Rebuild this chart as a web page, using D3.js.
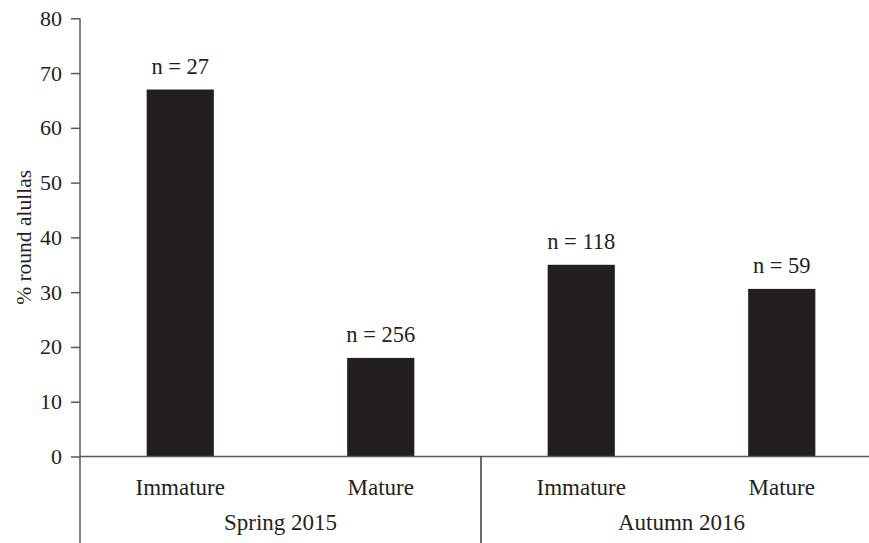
<!DOCTYPE html>
<html>
<head>
<meta charset="utf-8">
<script src="https://cdn.jsdelivr.net/npm/d3@7"></script>
<style>
  html, body { margin: 0; padding: 0; background: #fff; }
  svg text { font-family: "Liberation Serif", "Times New Roman", serif; fill: #231f20; }
</style>
</head>
<body>
<svg id="chart" width="869" height="543"></svg>
<script>
// Share of round alullas by age class and season
const groups = ["Spring 2015", "Autumn 2016"];
const categories = ["Immature", "Mature", "Immature", "Mature"];
const categoryGroup = [0, 0, 1, 1];
const values = [67, 18, 35, 30.6];
const sampleSizes = ["n = 27", "n = 256", "n = 118", "n = 59"];
const yTicks = [0, 10, 20, 30, 40, 50, 60, 70, 80];

const svg = d3.select("#chart");
const margin = { left: 80 };
const plotBottom = 456.5;
const plotRight = 882;

const x = d3.scaleBand()
  .domain(d3.range(values.length))
  .range([margin.left, plotRight])
  .paddingInner(0.665)
  .paddingOuter(0.3325);

const y = d3.scaleLinear().domain([0, 80]).range([plotBottom, 18.3]);

const axisColor = "#5a5a5a";

// bars
svg.append("g").selectAll("rect")
  .data(values)
  .join("rect")
  .attr("x", (d, i) => x(i))
  .attr("width", x.bandwidth())
  .attr("y", d => y(d))
  .attr("height", d => y(0) - y(d))
  .attr("fill", "#231f20");

// sample size labels
svg.append("g").selectAll("text")
  .data(values)
  .join("text")
  .attr("x", (d, i) => x(i) + x.bandwidth() / 2)
  .attr("y", d => y(d) - 15.5)
  .attr("text-anchor", "middle")
  .style("font-size", "22.5px")
  .text((d, i) => sampleSizes[i]);

// y axis
const yAxis = d3.axisLeft(y).tickValues(yTicks).tickSize(9).tickPadding(9).tickFormat(d3.format("d"));
const gy = svg.append("g").attr("transform", `translate(${margin.left},0)`).call(yAxis);
gy.select(".domain").remove();
gy.selectAll(".tick line").attr("stroke", axisColor).attr("stroke-width", 1.5);
gy.selectAll(".tick text").style("font-size", "22px").attr("fill", "#231f20");

// vertical axis line running down through the category label area
svg.append("line")
  .attr("x1", margin.left).attr("x2", margin.left)
  .attr("y1", y(80)).attr("y2", 543)
  .attr("stroke", axisColor).attr("stroke-width", 1.5);

// baseline
svg.append("line")
  .attr("x1", margin.left).attr("x2", 869)
  .attr("y1", y(0)).attr("y2", y(0))
  .attr("stroke", axisColor).attr("stroke-width", 1.5);

// separator between season groups
const sepX = x(2) - x.step() * x.paddingInner() / 2;
svg.append("line")
  .attr("x1", sepX).attr("x2", sepX)
  .attr("y1", y(0)).attr("y2", 543)
  .attr("stroke", "#3a3a3a").attr("stroke-width", 1.5);

// category labels
svg.append("g").selectAll("text")
  .data(categories)
  .join("text")
  .attr("x", (d, i) => x(i) + x.bandwidth() / 2)
  .attr("y", 494.5)
  .attr("text-anchor", "middle")
  .style("font-size", "23px")
  .text(d => d);

// group labels
svg.append("g").selectAll("text")
  .data(groups)
  .join("text")
  .attr("x", (d, gi) => {
    const idx = d3.range(categories.length).filter(i => categoryGroup[i] === gi);
    return (x(idx[0]) + x(idx[idx.length - 1]) + x.bandwidth()) / 2;
  })
  .attr("y", 529.5)
  .attr("text-anchor", "middle")
  .style("font-size", "23px")
  .text(d => d);

// y axis title
svg.append("text")
  .attr("transform", `translate(31,${(y(0) + y(80)) / 2}) rotate(-90)`)
  .attr("text-anchor", "middle")
  .style("font-size", "21.5px")
  .text("% round alullas");
</script>
</body>
</html>
